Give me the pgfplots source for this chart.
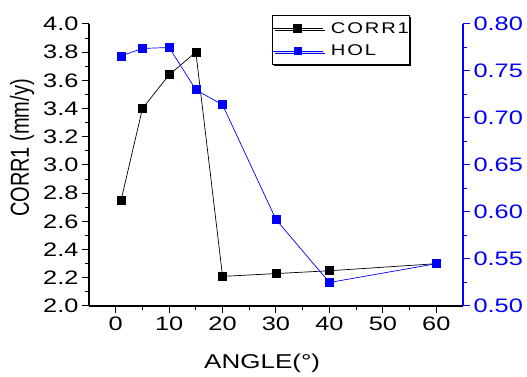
\documentclass[border=0pt]{standalone}
\usepackage{fontspec}
\setmainfont{Liberation Sans}[FakeStretch=1.3]
\newfontfamily\plainfont{Liberation Sans}
\usepackage{pgfplots}
\pgfplotsset{compat=1.18}
\usetikzlibrary{shadows}
\begin{document}
\begin{tikzpicture}
\path[use as bounding box] (-89pt,-71pt) rectangle (438pt,306pt);
\pgfplotsset{
  common/.style={
    at={(0,0)}, anchor=south west,
    scale only axis, width=374pt, height=282pt,
    xmin=-5, xmax=65,
    tick align=outside,
    major tick length=7pt, minor tick length=4pt,
    every tick/.style={line width=1pt},
    axis line style={line width=1.2pt},
    ticklabel style={font=\fontsize{19.5}{20}\selectfont},
    /pgf/number format/assume math mode=true,
  }
}
\begin{axis}[common,
  ymin=2, ymax=4,
  axis x line*=bottom, axis y line*=left,
  xtick={0,10,20,30,40,50,60}, minor xtick={5,15,25,35,45,55},
  ytick={2.0,2.2,2.4,2.6,2.8,3.0,3.2,3.4,3.6,3.8,4.0},
  minor ytick={2.1,2.3,2.5,2.7,2.9,3.1,3.3,3.5,3.7,3.9},
  yticklabel style={/pgf/number format/.cd, fixed, fixed zerofill, precision=1},
  xlabel={ANGLE(°)}, ylabel={\plainfont CORR1 (mm/y)},
  xlabel style={font=\fontsize{20}{20}\selectfont, at={(axis description cs:0.463,-0.202)}, anchor=center},
  ylabel style={font=\fontsize{20}{20}\selectfont, at={(axis description cs:-0.179,0.56)}, anchor=center, yscale=1.3},
  legend cell align=left,
  legend style={at={(0.489,1.032)}, anchor=north west, draw=black, line width=0.8pt, fill=white,
    font=\fontsize{15.5}{16}\selectfont\addfontfeature{LetterSpace=12},
    inner xsep=0pt, inner ysep=6pt, row sep=8pt, column sep=8pt,
    nodes={inner xsep=0pt, inner ysep=1pt},
    drop shadow={shadow xshift=2pt, shadow yshift=-2pt, fill=black, opacity=1}},
  legend image code/.code={\draw[mark repeat=2,mark phase=2,#1] plot coordinates {(0pt,0pt) (25pt,0pt) (50pt,0pt)};},
]
\addplot[black, line width=0.7pt, mark=square*, mark size=4pt, mark options={solid}] coordinates {
  (1,2.75) (5,3.40) (10,3.64) (15,3.80) (20,2.21) (30,2.23) (40,2.25) (60,2.30)};
\addlegendentry{CORR1\hspace{6pt}}
\addlegendimage{blue, line width=0.7pt, mark=square*, mark size=3.5pt}
\addlegendentry{HOL}
\end{axis}
\begin{axis}[common,
  ymin=0.5, ymax=0.8,
  axis y line*=right, axis x line=none,
  ytick={0.50,0.55,0.60,0.65,0.70,0.75,0.80},
  minor ytick={0.525,0.575,0.625,0.675,0.725,0.775},
  yticklabel style={blue, /pgf/number format/.cd, fixed, fixed zerofill, precision=2},
  y axis line style={blue},
  every tick/.style={blue, line width=1pt},
]
\addplot[blue, line width=0.7pt, mark=square*, mark size=4pt, mark options={solid}] coordinates {
  (1,0.766) (5,0.774) (10,0.775) (15,0.730) (20,0.714) (30,0.592) (40,0.525) (60,0.545)};
\end{axis}
\end{tikzpicture}
\end{document}
